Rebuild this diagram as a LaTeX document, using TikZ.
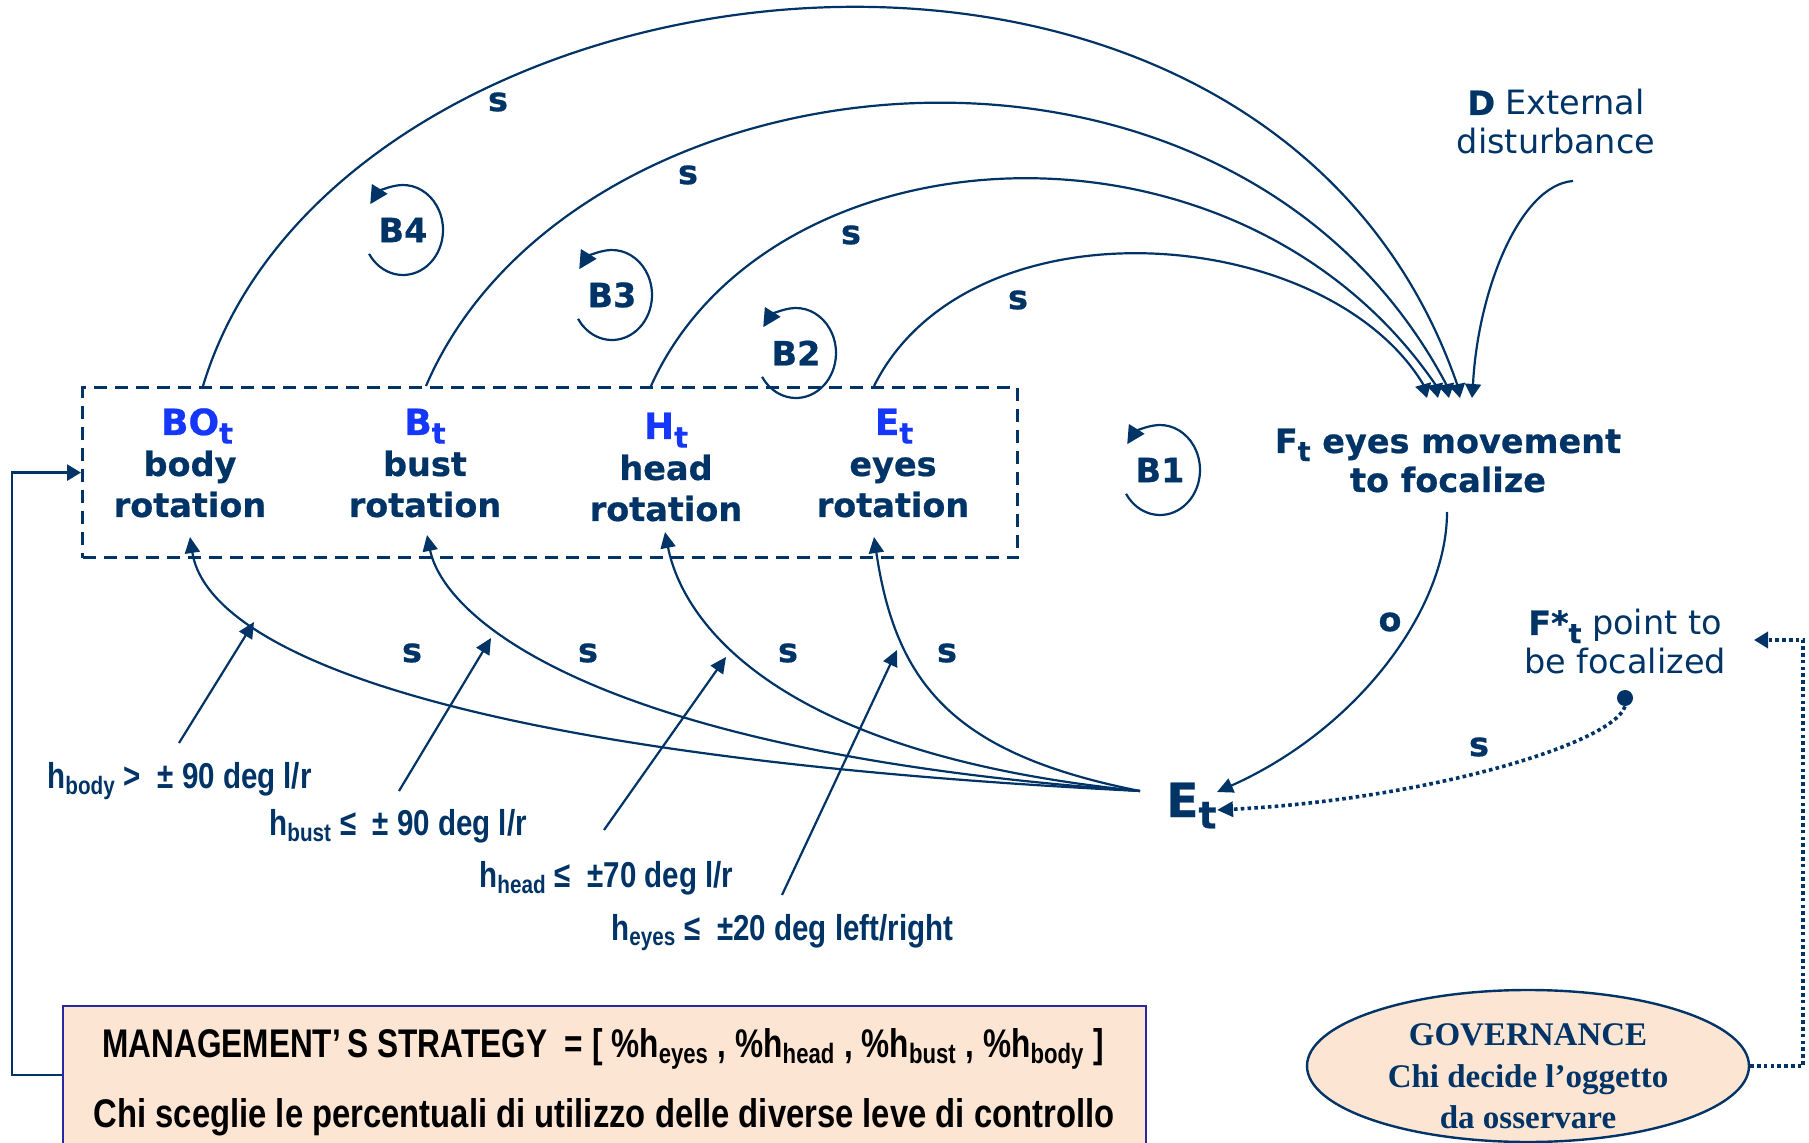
\documentclass[tikz,border=0pt]{standalone}
\usepackage{fontspec}
\usepackage{graphicx}
\setmainfont{DejaVu Sans}[BoldFeatures={FakeBold=0.6}]
\newfontfamily\narrowfont[FakeStretch=0.82]{Liberation Sans}
\newfontfamily\narrowerfont[FakeStretch=0.79]{Liberation Sans}
\newfontfamily\seriffont{Liberation Serif}
\usetikzlibrary{arrows.meta,shapes.geometric}
\definecolor{navy}{RGB}{0,51,102}
\definecolor{vivid}{RGB}{20,55,250}
\definecolor{peach}{RGB}{253,229,211}
\definecolor{frameblue}{RGB}{40,40,160}
% lowered, slightly reduced index letter
\newcommand\lowsub[1]{\raisebox{-0.24em}{\scalebox{0.8}{#1}}}

\begin{document}
\begin{tikzpicture}[x=0.5pt,y=-0.5pt,
  lbl/.style={text=navy, inner sep=0pt, anchor=base, font=\fontsize{16.75}{20.5}\selectfont\bfseries},
  vlbl/.style={lbl, text=vivid, font=\fontsize{18}{21}\selectfont\bfseries},
  plain/.style={text=navy, inner sep=0pt, anchor=base, font=\fontsize{16.75}{20.5}\selectfont},
  cond/.style={text=navy, inner sep=0pt, anchor=base west, font=\narrowfont\fontsize{18}{21}\selectfont\bfseries},
  mgtxt/.style={text=black, inner sep=0pt, anchor=base, font=\narrowfont\fontsize{20}{24}\selectfont\bfseries},
  govtxt/.style={text=navy, inner sep=0pt, anchor=base, font=\seriffont\fontsize{16.5}{20}\selectfont\bfseries},
  tag/.style={text=navy, inner sep=0pt, font=\fontsize{16.75}{20.5}\selectfont\bfseries},
  link/.style={draw=navy, line width=1.1pt},
  tipS/.style={-{Triangle[length=7pt,width=8pt]}},
  tipL/.style={-{Triangle[length=8pt,width=7.5pt]}},
  dotline/.style={draw=navy, line width=1.8pt, dash pattern=on 1.8pt off 1.6pt},
  loopline/.style={draw=navy, line width=1.1pt, -{Triangle[length=9pt,width=9pt]}}
]
\useasboundingbox (0,0) rectangle (1809,1143);
\clip (0,0) rectangle (1809,1143);

% ---------- boxes in the background ----------
\node[rectangle, draw=frameblue, fill=peach, line width=1.2pt, anchor=north west,
      inner sep=0pt, minimum width=541.5pt, minimum height=80pt] (mgmt) at (62,1005) {};
\node[ellipse, draw=navy, fill=peach, line width=1.2pt, inner sep=0pt,
      minimum width=221pt, minimum height=76pt] (gov) at (1528,1066) {};
\node[rectangle, draw=navy, line width=1.6pt, dash pattern=on 6.5pt off 4pt,
      anchor=north west, inner sep=0pt, minimum width=467.5pt, minimum height=85pt] (ctrl) at (81,386) {};

% ---------- control levers ----------
\node[vlbl] (BO) at (197,435) {BO\lowsub{t}};
\node[lbl] (BObody) at (190,476) {body};
\node[lbl] (BOrot) at (190,517) {rotation};

\node[vlbl] (B) at (425,435) {B\lowsub{t}};
\node[lbl] (Bbust) at (425,476) {bust};
\node[lbl] (Brot) at (425,517) {rotation};

\node[vlbl] (H) at (666,439) {H\lowsub{t}};
\node[lbl] (Hhead) at (666,480) {head};
\node[lbl] (Hrot) at (666,521) {rotation};

\node[vlbl] (E) at (894,435) {E\lowsub{t}};
\node[lbl] (Eeyes) at (893,476) {eyes};
\node[lbl] (Erot) at (893,517) {rotation};

% ---------- other variables ----------
\node[lbl] (Ft1) at (1448,453) {F\lowsub{t} eyes movement};
\node[lbl] (Ft2) at (1448,492) {to focalize};
\node[plain] (D1) at (1556,115) {\textbf{D} External};
\node[plain] (D2) at (1556,154) {disturbance};
\node[plain] (Fs1) at (1625,635) {\textbf{F*\lowsub{t}} point to};
\node[plain] (Fs2) at (1625,674) {be focalized};
\node[circle, fill=navy, inner sep=0pt, minimum size=8pt] (fdot) at (1625,698) {};
\node[text=navy, inner sep=0pt, anchor=base west, font=\fontsize{23.5}{28}\selectfont\bfseries] (Et) at (1166,817) {E\lowsub{t}};

% ---------- loop markers ----------
\node[tag] (B4) at (403,230) {B4};
\node[tag] (B3) at (612,295) {B3};
\node[tag] (B2) at (796,353) {B2};
\node[tag] (B1) at (1160,470) {B1};
\foreach \b in {B4,B3,B2,B1}
  \draw[loopline] ([shift={(148:40 and 45)}]\b.center) arc[start angle=148, end angle=-145, x radius=40, y radius=45];

% ---------- link signs ----------
\node[tag] (s1) at (498,102) {s};
\node[tag] (s2) at (688,175) {s};
\node[tag] (s3) at (851,235) {s};
\node[tag] (s4) at (1018,300) {s};
\node[tag] (s5) at (412,653) {s};
\node[tag] (s6) at (588,653) {s};
\node[tag] (s7) at (788,653) {s};
\node[tag] (s8) at (947,653) {s};
\node[tag] (s9) at (1479,747) {s};
\node[tag] (o1) at (1390,622) {o};

% ---------- connection points ----------
\coordinate (boTop) at (203,386);
\coordinate (bTop) at (426,386);
\coordinate (hTop) at (651,386);
\coordinate (eTop) at (874,386);
\coordinate (fin1) at (1427,398);
\coordinate (fin2) at (1438,398);
\coordinate (fin3) at (1449,398);
\coordinate (fin4) at (1460,398);
\coordinate (fin5) at (1472,398);
\coordinate (dStart) at (1573,181);
\coordinate (boBot) at (190,537);
\coordinate (bBot) at (427,535);
\coordinate (hBot) at (665,532);
\coordinate (eBot) at (874,537);
\coordinate (etL) at (1140,791);
\coordinate (etIn1) at (1217,792);
\coordinate (etIn2) at (1217,810);
\coordinate (ftBot) at (1447,512);
\coordinate (fsIn) at (1754,640);
\coordinate (mgL) at (62,1075);

% ---------- links from the levers to F_t (heads point straight down) ----------
\draw[link,tipS] (boTop) .. controls (337,-59) and (1262,-176) .. ([shift={(-3,-14)}]fin4) -- (fin4);
\draw[link,tipS] (bTop) .. controls (572,46) and (1228,-27) .. ([shift={(-3,-14)}]fin3) -- (fin3);
\draw[link,tipS] (hTop) .. controls (769,124) and (1236,95) .. ([shift={(-3,-14)}]fin2) -- (fin2);
\draw[link,tipS] (eTop) .. controls (969,196) and (1325,223) .. ([shift={(-4,-14)}]fin1) -- (fin1);
\draw[link,tipS] (dStart) .. controls (1520,185) and (1478,290) .. ([shift={(1,-14)}]fin5) -- (fin5);

% ---------- F_t to E_t ----------
\draw[link,tipL] (ftBot) .. controls (1447,609) and (1358,729) .. (etIn1);
\draw[dotline,tipL] (fdot.south) .. controls (1612,745) and (1420,800) .. (etIn2);

% ---------- links from E_t back to the levers ----------
\draw[link,tipL] (etL) .. controls (417,755) and (206,642) .. (boBot);
\draw[link,tipL] (etL) .. controls (594,753) and (444,618) .. (bBot);
\draw[link,tipL] (etL) .. controls (769,754) and (682,618) .. (hBot);
\draw[link,tipL] (etL) .. controls (953,754) and (896,684) .. (eBot);

% ---------- lever thresholds ----------
\node[cond] (hbody) at (47,788) {h\textsubscript{body} >\ \ ± 90 deg l/r};
\node[cond] (hbust) at (269,835) {h\textsubscript{bust} ≤\ \ ± 90 deg l/r};
\node[cond] (hhead) at (479,887) {h\textsubscript{head} ≤\ \ ±70 deg l/r};
\node[cond] (heyes) at (611,940) {h\textsubscript{eyes} ≤\ \ ±20 deg left/right};
\coordinate (a1s) at (179,743); \coordinate (a1e) at (254,622);
\coordinate (a2s) at (399,791); \coordinate (a2e) at (491,638);
\coordinate (a3s) at (604,830); \coordinate (a3e) at (726,657);
\coordinate (a4s) at (782,895); \coordinate (a4e) at (897,650);
\draw[link,tipL] (a1s) -- (a1e);
\draw[link,tipL] (a2s) -- (a2e);
\draw[link,tipL] (a3s) -- (a3e);
\draw[link,tipL] (a4s) -- (a4e);

% ---------- strategy and governance ----------
\node[mgtxt, font=\narrowerfont\fontsize{20}{24}\selectfont\bfseries] (mg1) at (603,1057) {MANAGEMENT’\,S STRATEGY\ \ = [ \%h\textsubscript{eyes} , \%h\textsubscript{head} , \%h\textsubscript{bust} , \%h\textsubscript{body} ]};
\node[mgtxt] (mg2) at (604,1127) {Chi sceglie le percentuali di utilizzo delle diverse leve di controllo};
\node[govtxt] (gov1) at (1528,1045) {GOVERNANCE};
\node[govtxt] (gov2) at (1528,1087) {Chi decide l’oggetto};
\node[govtxt] (gov3) at (1528,1128) {da osservare};

\draw[link,line width=1.3pt,tipS] (mgL) -- (12,1075) |- (ctrl.west);
\draw[dotline,tipS] (gov.east) -- ++(53,0) |- (fsIn);
\end{tikzpicture}
\end{document}
